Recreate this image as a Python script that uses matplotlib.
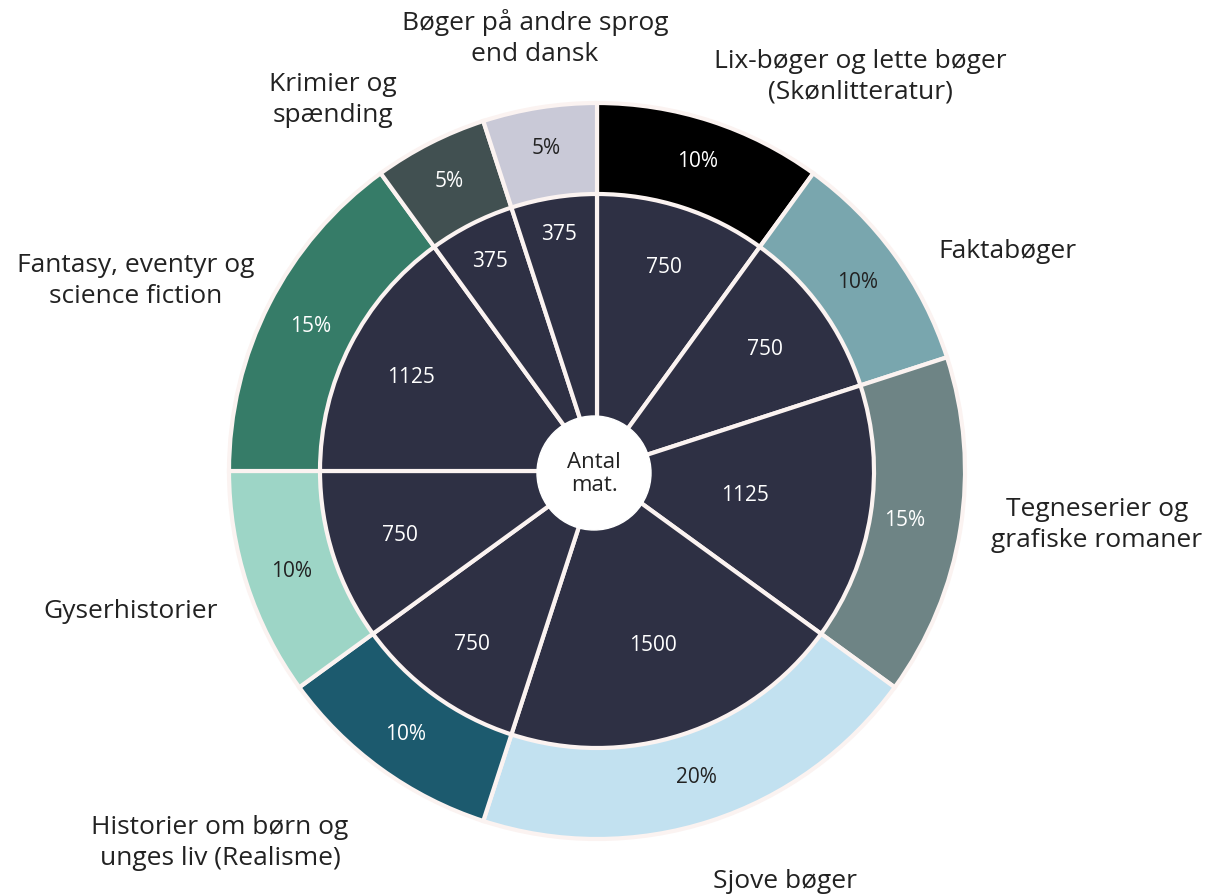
import matplotlib
matplotlib.use("Agg")
import matplotlib.pyplot as plt
import numpy as np

# ---------------- data ----------------
categories = [
    "Lix-bøger og lette bøger\n(Skønlitteratur)",
    "Faktabøger",
    "Tegneserier og\ngrafiske romaner",
    "Sjove bøger",
    "Historier om børn og\nunges liv (Realisme)",
    "Gyserhistorier",
    "Fantasy, eventyr og\nscience fiction",
    "Krimier og\nspænding",
    "Bøger på andre sprog\nend dansk",
]
counts = [750, 750, 1125, 1500, 750, 750, 1125, 375, 375]
percents = [10, 10, 15, 20, 10, 10, 15, 5, 5]
center_label = "Antal\nmat."

# ---------------- style ----------------
outer_colors = ["#000000", "#79a6ae", "#6e8485", "#c2e1f0", "#1c5a6e",
                "#9dd5c6", "#367c68", "#415051", "#c9c9d7"]
pct_text_colors = ["white", "#222222", "white", "#222222", "white",
                   "#222222", "white", "white", "#222222"]
inner_color = "#2e3044"
edge = "#fbf3f1"
font = "Open Sans"
text_dark = "#222222"

# label anchor positions (pixel coords, top-left origin) for category names
label_pos = [(860, 77), (1007, 252), (1097, 525), (785, 882), (220, 843),
             (131, 612), (136, 281), (333, 100), (535, 38)]
# radial distances (pixels) of the value labels inside each wedge
pct_r = [327, 322, 311, 321, 325, 321, 321, 326, 328]
cnt_r = [215, 208, 150, 182, 213, 207, 209, 236, 240]

W, H = 1213, 895
fig = plt.figure(figsize=(W / 100, H / 100), dpi=100)
ax = fig.add_axes([0, 0, 1, 1])

cx, cy = 597, H - 472
R_out, R_in, R_hole = 368, 277, 57

wedges_out, _ = ax.pie(percents, colors=outer_colors, radius=R_out, center=(cx, cy),
                       startangle=90, counterclock=False,
                       wedgeprops=dict(edgecolor=edge, linewidth=3))
wedges_in, _ = ax.pie(counts, colors=[inner_color] * len(counts), radius=R_in,
                      center=(cx, cy), startangle=90, counterclock=False,
                      wedgeprops=dict(edgecolor=edge, linewidth=3))
ax.add_patch(plt.Circle((cx - 3, cy - 2), R_hole, facecolor="white",
                        edgecolor="white", zorder=5))
ax.text(cx - 3, cy - 2, center_label, ha="center", va="center", fontsize=16,
        family=font, color=text_dark, zorder=6, linespacing=1.15)

for w, p, c, r in zip(wedges_out, percents, pct_text_colors, pct_r):
    ang = np.deg2rad((w.theta1 + w.theta2) / 2)
    ax.text(cx + r * np.cos(ang), cy + r * np.sin(ang), f"{p}%", ha="center",
            va="center", fontsize=15, family=font, color=c)

for w, n, r in zip(wedges_in, counts, cnt_r):
    ang = np.deg2rad((w.theta1 + w.theta2) / 2)
    ax.text(cx + r * np.cos(ang), cy + r * np.sin(ang), f"{n}", ha="center",
            va="center", fontsize=15, family=font, color="white")

for lab, (px, py) in zip(categories, label_pos):
    ax.text(px, H - py, lab, ha="center", va="center", fontsize=19, family=font,
            color=text_dark, linespacing=1.3)

ax.set_xlim(0, W)
ax.set_ylim(0, H)
ax.set_aspect("equal")
ax.axis("off")
fig.savefig("out.png", dpi=100, facecolor="white")
